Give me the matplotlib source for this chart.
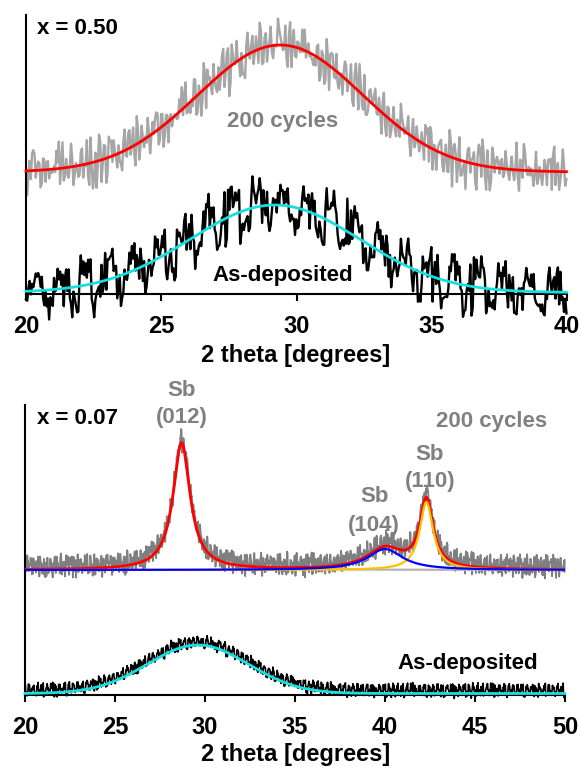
import numpy as np
import matplotlib
matplotlib.use("Agg")
import matplotlib.pyplot as plt

plt.rcParams['font.family'] = ['Liberation Sans', 'DejaVu Sans']
plt.rcParams['font.weight'] = 'bold'

# ---------------- data (intensity in arbitrary units) ----------------
# x = 0.50 panel
top_xticks = [20, 25, 30, 35, 40]
top_step = 0.045
# Gaussian fits: baseline, amplitude, centre, sigma
top_200_fit = dict(base=122.0, amp=127.0, center=29.4, sigma=3.05)
top_asdep_fit = dict(base=1.5, amp=87.5, center=29.2, sigma=3.15)
top_200_noise = 30.0
top_asdep_noise = 34.0

# x = 0.07 panel
bot_xticks = [20, 25, 30, 35, 40, 45, 50]
bot_step = 0.022
bot_200_base = 125.0
sb_peaks = ["(012)", "(104)", "(110)"]
sb_centers = [28.7, 40.0, 42.3]
sb_heights = [127.0, 21.0, 68.0]
sb_fwhm = [1.15, 2.4, 0.9]
bot_asdep_fit = dict(base=1.5, amp=48.5, center=29.6, sigma=2.8)
bot_200_noise = 13.0
bot_asdep_noise = 8.0

# measured residual pattern (data minus fit, normalised)
resid_a = [0.3, -0.8, 0.9, -0.2, 0.6, -1.0, 0.1, 0.7, -0.5, 0.4, -0.9, 0.8, -0.1, 0.5,
           -0.7, 1.0, -0.3, 0.2, -0.6, 0.9, -0.4, 0.0, 0.7, -0.9, 0.3, -0.2, 0.8, -0.6,
           0.5, -1.0, 0.6, -0.1, 0.2, -0.8, 0.9, -0.3, 0.4, -0.5, 1.0, -0.7, 0.1, 0.6,
           -0.4, 0.3, -0.9, 0.8, -0.2, 0.5, -0.6, 0.0, 0.7, -0.8, 0.4, -0.1, 0.9, -0.5,
           0.2, -0.7, 0.6, -0.3, 0.8, -1.0, 0.3, 0.1, -0.6, 0.7, -0.2, 0.5, -0.9, 0.4,
           -0.4, 1.0, -0.1, 0.2, -0.8, 0.6, -0.5, 0.9, -0.3, 0.0, 0.5, -0.7, 0.8, -0.2,
           0.3, -0.9, 0.7, -0.6, 0.1, 0.4, -0.1, 0.9, -0.4, 0.6, -0.8, 0.2, -0.5, 1.0,
           -0.7, 0.3, -0.3]
resid_b = [0.5, -0.2, 0.9, -0.7, 0.1, -0.4, 0.8, -1.0, 0.3, 0.6, -0.5, 0.2, -0.9, 0.7,
           -0.1, 0.4, -0.6, 1.0, -0.3, 0.0, 0.6, -0.8, 0.2, -0.2, 0.9, -0.5, 0.4, -1.0,
           0.7, -0.1, 0.3, -0.7, 0.5, 0.1, -0.9, 0.8, -0.4, 0.2, -0.6, 1.0, -0.2, 0.4,
           -0.8, 0.6, 0.0, -0.3, 0.9, -0.7, 0.1, -0.5, 0.7, -0.1, 0.3, -0.9, 0.5, -0.4,
           0.8, -0.6, 0.2, 1.0, -0.8]

# ---------------- helpers ----------------
RA = np.array(resid_a)
RB = np.array(resid_b)


def residual(n, k1, k2, o1, o2):
    i = np.arange(n)
    return 0.7 * RA[(k1 * i + o1) % len(RA)] + 0.3 * RB[(k2 * i + o2) % len(RB)]


def gauss(x, p):
    return p['base'] + p['amp'] * np.exp(-(x - p['center']) ** 2 / (2 * p['sigma'] ** 2))


def lorentz(x, c, h, w):
    g = w / 2.0
    return h * g ** 2 / ((x - c) ** 2 + g ** 2)


# ---------------- figure ----------------
W, H = 581, 767
fig = plt.figure(figsize=(W / 100, H / 100), dpi=100)

ax1 = fig.add_axes([26 / W, 1 - 294 / H, 541 / W, (294 - 15) / H])
ax2 = fig.add_axes([25 / W, 1 - 695 / H, 540 / W, (695 - 405) / H])

GRAY_LIGHT = '#a6a6a6'
GRAY_DARK = '#7f7f7f'
CYAN = '#17dfe0'
RED = '#ff0000'
BLUE = '#0000ff'
ORANGE = '#ffc000'
TXT_GRAY = '#808080'

# ---- top panel ----
xt = np.arange(20, 40 + 1e-9, top_step)
f200 = gauss(xt, top_200_fit)
fdep = gauss(xt, top_asdep_fit)
d200 = f200 + top_200_noise * residual(len(xt), 7, 5, 3, 11)
ddep = fdep + top_asdep_noise * residual(len(xt), 13, 4, 40, 27)

ax1.plot(xt, d200, color=GRAY_LIGHT, lw=1.7, clip_on=False, zorder=2)
ax1.plot(xt, f200, color=RED, lw=2.0, clip_on=False, zorder=3)
ax1.plot(xt, ddep, color='black', lw=1.7, clip_on=False, zorder=2)
ax1.plot(xt, fdep, color=CYAN, lw=2.0, clip_on=False, zorder=3)

ax1.set_xlim(20, 40)
ax1.set_ylim(0, 279)
ax1.set_xticks(top_xticks)

ax1.text(20.4, 266, "x = 0.50", fontsize=16, fontweight='bold', ha='left', va='center')
ax1.text(29.5, 173, "200 cycles", fontsize=16, fontweight='bold', color=TXT_GRAY,
         ha='center', va='center')
ax1.text(29.5, 19, "As-deposited", fontsize=16, fontweight='bold', ha='center',
         va='center', zorder=5)

# ---- bottom panel ----
xb = np.arange(20, 50 + 1e-9, bot_step)
comps = [lorentz(xb, c, h, w) for c, h, w in zip(sb_centers, sb_heights, sb_fwhm)]
fsum = bot_200_base + comps[0] + comps[1] + comps[2]
g200 = fsum + 3.0 + bot_200_noise * residual(len(xb), 11, 7, 5, 19)
bdep = gauss(xb, bot_asdep_fit)
gdep = bdep + 3.0 + bot_asdep_noise * residual(len(xb), 17, 3, 60, 8)

ax2.plot(xb, g200, color=GRAY_DARK, lw=1.3, clip_on=False, zorder=2)
ax2.plot(xb, bot_200_base + comps[0], color='#b4b4b4', lw=1.6, zorder=3)
ax2.plot(xb, fsum, color=RED, lw=2.0, zorder=4)
ax2.plot(xb, bot_200_base + comps[2], color=ORANGE, lw=1.6, zorder=5)
ax2.plot(xb, bot_200_base + comps[1], color=BLUE, lw=1.6, zorder=6)
ax2.plot(xb, gdep, color='black', lw=1.2, clip_on=False, zorder=2)
ax2.plot(xb, bdep, color=CYAN, lw=2.0, clip_on=False, zorder=3)

ax2.set_xlim(20, 50)
ax2.set_ylim(0, 290)
ax2.set_xticks(bot_xticks)

ax2.text(20.67, 277, "x = 0.07", fontsize=16, fontweight='bold', ha='left', va='center')
ax2.text(45.9, 274, "200 cycles", fontsize=16, fontweight='bold', color=TXT_GRAY,
         ha='center', va='center')
ax2.text(44.6, 31, "As-deposited", fontsize=16, fontweight='bold', ha='center', va='center')

label_pos = [(28.7, 305, 277), (39.4, 198, 170), (42.5, 240, 214)]
for name, (lx, ysb, yhkl) in zip(sb_peaks, label_pos):
    ax2.text(lx, ysb, "Sb", fontsize=16, fontweight='bold', color=TXT_GRAY,
             ha='center', va='center')
    ax2.text(lx, yhkl, name, fontsize=16, fontweight='bold', color=TXT_GRAY,
             ha='center', va='center')

for ax in (ax1, ax2):
    ax.set_facecolor('none')
    ax.spines['top'].set_visible(False)
    ax.spines['right'].set_visible(False)
    ax.spines['left'].set_linewidth(1.5)
    ax.spines['bottom'].set_linewidth(1.5)
    ax.set_yticks([])
    ax.tick_params(axis='x', direction='out', length=5, width=1.5, pad=10,
                   labelsize=17)
    for lab in ax.get_xticklabels():
        lab.set_fontweight('bold')

fig.text(296 / W, 1 - 362 / H, "2 theta [degrees]", fontsize=17, fontweight='bold',
         ha='center', va='baseline')
fig.text(296 / W, 1 - 761 / H, "2 theta [degrees]", fontsize=17, fontweight='bold',
         ha='center', va='baseline')

fig.savefig("out.png", dpi=100)
